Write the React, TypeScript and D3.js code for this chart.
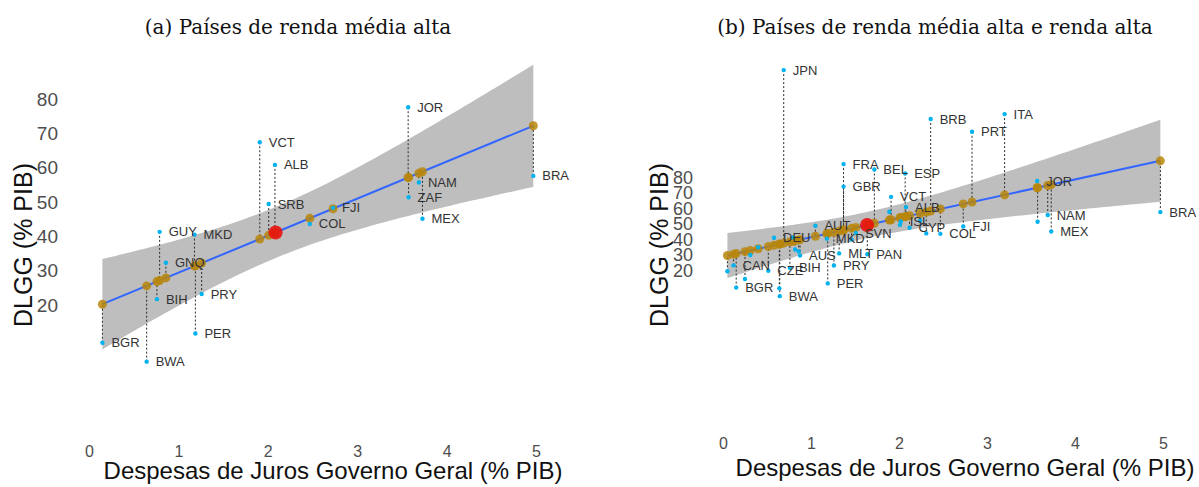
import React, { useEffect, useRef } from 'react';
import * as d3 from 'd3';

// upper-middle income countries (panel a, and also part of panel b)
const codesUM = ['BGR', 'BWA', 'GUY', 'BIH', 'GNQ', 'MKD', 'PER', 'PRY', 'VCT', 'SRB', 'ALB', 'COL', 'FJI', 'JOR', 'ZAF', 'NAM', 'MEX', 'BRA'];
const jurosUM = [0.15, 0.645, 0.79, 0.76, 0.86, 1.18, 1.19, 1.26, 1.91, 2.01, 2.08, 2.47, 2.73, 3.57, 3.575, 3.69, 3.73, 4.97];
const dlggUM = [9.0, 3.5, 41.3, 21.7, 32.3, 40.5, 11.7, 23.2, 67.4, 49.4, 60.8, 43.6, 48.3, 77.6, 51.4, 55.7, 45.1, 57.6];

// high income countries added in panel b ('' = point whose label was dropped)
const codesHI = ['JPN', 'FRA', 'GBR', 'BEL', 'ESP', 'BRB', 'PRT', 'ITA', 'AUT', 'DEU', 'AUS', 'MLT', 'PAN', 'SVN', 'ISL', 'CYP', 'CAN', 'CZE', '', '', '', '', '', '', '', '', '', ''];
const jurosHI = [0.69, 1.37, 1.37, 1.72, 2.07, 2.36, 2.83, 3.2, 1.05, 0.58, 0.875, 1.32, 1.64, 1.51, 2.02, 2.12, 0.12, 0.515, 0.05, 0.25, 0.64, 1.89, 0.82, 0.31, 0.4, 1.46, 2.24, 2.31];
const dlggHI = [149, 88.5, 74, 85, 82.5, 117.5, 109.3, 120.7, 48.8, 41.1, 29.6, 31, 30.5, 44.1, 51.5, 47.5, 23.3, 19.8, 19.5, 14.5, 8.5, 57.8, 33.5, 30, 35, 40, 52, 43.9];

// labels ggrepel left out in panel b
const hiddenInB = ['GUY', 'GNQ', 'SRB', 'ZAF'];

const xTicks = [0, 1, 2, 3, 4, 5];
const yTicks = [20, 30, 40, 50, 60, 70, 80];

const titleA = '(a) Países de renda média alta';
const titleB = '(b) Países de renda média alta e renda alta';
const xLabel = 'Despesas de Juros Governo Geral (% PIB)';
const yLabel = 'DLGG (% PIB)';

const SANS = 'Liberation Sans, Arial, sans-serif';

// two-sided 95% t quantile (Cornish-Fisher expansion)
const tQuantile = (df) => {
  const z = 1.959964;
  return z + (z ** 3 + z) / (4 * df) + (5 * z ** 5 + 16 * z ** 3 + 3 * z) / (96 * df * df)
    + (3 * z ** 7 + 19 * z ** 5 + 17 * z ** 3 - 15 * z) / (384 * df ** 3);
};

// simple OLS like geom_smooth(method = 'lm')
const fitLm = (xs, ys) => {
  const n = xs.length;
  const mx = d3.mean(xs);
  const my = d3.mean(ys);
  const sxx = d3.sum(xs, (v) => (v - mx) ** 2);
  const sxy = d3.sum(xs.map((v, i) => (v - mx) * (ys[i] - my)));
  const b = sxy / sxx;
  const a = my - b * mx;
  const rss = d3.sum(xs.map((v, i) => (ys[i] - a - b * v) ** 2));
  const s = Math.sqrt(rss / (n - 2));
  const t = tQuantile(n - 2);
  return { a, b, mx, my, half: (v) => t * s * Math.sqrt(1 / n + (v - mx) ** 2 / sxx) };
};

const drawPanel = (svg, p) => {
  const { codes, xs, ys, hidden, x, y } = p;
  const fit = fitLm(xs, ys);
  const pred = (v) => fit.a + fit.b * v;
  const g = svg.append('g');

  // confidence band
  const [x0, x1] = d3.extent(xs);
  const grid = d3.range(0, 101).map((i) => x0 + (x1 - x0) * i / 100);
  g.append('path')
    .datum(grid)
    .attr('fill', '#BEBEBE')
    .attr('d', d3.area()
      .x((d) => x(d))
      .y0((d) => y(pred(d) - fit.half(d)))
      .y1((d) => y(pred(d) + fit.half(d))));

  const pts = xs.map((v, i) => ({ code: codes[i], x: v, y: ys[i], f: pred(v) }));

  // residual segments
  g.selectAll('.seg')
    .data(pts)
    .enter()
    .append('line')
    .attr('x1', (d) => x(d.x))
    .attr('x2', (d) => x(d.x))
    .attr('y1', (d) => y(d.y))
    .attr('y2', (d) => y(d.f))
    .attr('stroke', '#2b2b2b')
    .attr('stroke-width', 1)
    .attr('stroke-dasharray', '2,2');

  // regression line
  g.append('path')
    .datum([x0, x1])
    .attr('fill', 'none')
    .attr('stroke', '#3366FF')
    .attr('stroke-width', 2)
    .attr('d', d3.line().x((d) => x(d)).y((d) => y(pred(d))));

  // fitted values
  g.selectAll('.fit')
    .data(pts)
    .enter()
    .append('circle')
    .attr('cx', (d) => x(d.x))
    .attr('cy', (d) => y(d.f))
    .attr('r', 4.5)
    .attr('fill', '#B8860B')
    .attr('fill-opacity', 0.85);

  // observed values
  g.selectAll('.obs')
    .data(pts)
    .enter()
    .append('circle')
    .attr('cx', (d) => x(d.x))
    .attr('cy', (d) => y(d.y))
    .attr('r', 2.2)
    .attr('fill', '#00B2EE');

  // mean point
  g.append('circle')
    .attr('cx', x(fit.mx))
    .attr('cy', y(fit.my))
    .attr('r', 7)
    .attr('fill', '#E8120C')
    .attr('fill-opacity', 0.9);

  // country labels
  g.selectAll('.lab')
    .data(pts.filter((d) => d.code && !hidden.includes(d.code)))
    .enter()
    .append('text')
    .attr('x', (d) => x(d.x) + 9)
    .attr('y', (d) => y(d.y))
    .attr('dominant-baseline', 'central')
    .attr('font-family', SANS)
    .attr('font-size', 13)
    .attr('fill', '#333')
    .text((d) => d.code);

  // axes
  const yAxis = svg.append('g')
    .attr('transform', `translate(${p.yAxisX},0)`)
    .call(d3.axisLeft(y).tickValues(yTicks).tickSize(0).tickPadding(0));
  yAxis.select('.domain').remove();
  yAxis.selectAll('text')
    .attr('font-family', SANS)
    .attr('font-size', p.yTickSize)
    .attr('fill', '#4D4D4D');

  const xAxis = svg.append('g')
    .attr('transform', `translate(0,${p.xAxisY})`)
    .call(d3.axisBottom(x).tickValues(xTicks).tickSize(0).tickPadding(0).tickFormat(d3.format('d')));
  xAxis.select('.domain').remove();
  xAxis.selectAll('text')
    .attr('font-family', SANS)
    .attr('font-size', 16)
    .attr('fill', '#4D4D4D');

  svg.append('text')
    .attr('x', p.xLabelX)
    .attr('y', p.xLabelY)
    .attr('text-anchor', 'middle')
    .attr('font-family', SANS)
    .attr('font-size', 24)
    .attr('fill', '#111')
    .text(xLabel);

  svg.append('text')
    .attr('transform', `translate(${p.yLabelX},245) rotate(-90)`)
    .attr('text-anchor', 'middle')
    .attr('dominant-baseline', 'central')
    .attr('font-family', SANS)
    .attr('font-size', 25)
    .attr('fill', '#111')
    .text(yLabel);

  svg.append('text')
    .attr('x', p.titleX)
    .attr('y', 34)
    .attr('text-anchor', 'middle')
    .attr('font-family', 'DejaVu Serif, serif')
    .attr('font-size', 20)
    .attr('fill', '#111')
    .text(p.title);
};

const App = () => {
  const svgRef = useRef(null);

  useEffect(() => {
    const svg = d3.select(svgRef.current);
    svg.selectAll('*').remove();

    drawPanel(svg, {
      codes: codesUM,
      xs: jurosUM,
      ys: dlggUM,
      hidden: [],
      x: d3.scaleLinear().domain([0, 5]).range([89, 536]),
      y: d3.scaleLinear().domain([20, 80]).range([305, 99]),
      yAxisX: 58,
      yTickSize: 19,
      xAxisY: 446,
      xLabelX: 333,
      xLabelY: 479,
      yLabelX: 23,
      titleX: 298,
      title: titleA,
    });

    drawPanel(svg, {
      codes: codesUM.concat(codesHI),
      xs: jurosUM.concat(jurosHI),
      ys: dlggUM.concat(dlggHI),
      hidden: hiddenInB,
      x: d3.scaleLinear().domain([0, 5]).range([723, 1163]),
      y: d3.scaleLinear().domain([20, 80]).range([270.5, 177.3]),
      yAxisX: 693,
      yTickSize: 18,
      xAxisY: 438,
      xLabelX: 965,
      xLabelY: 476,
      yLabelX: 659,
      titleX: 935,
      title: titleB,
    });
  }, []);

  return (
    <svg
      ref={svgRef}
      width={1199}
      height={487}
      viewBox="0 0 1199 487"
      style={{ position: 'fixed', top: 0, left: 0, background: 'white' }}
    />
  );
};

export default App;
